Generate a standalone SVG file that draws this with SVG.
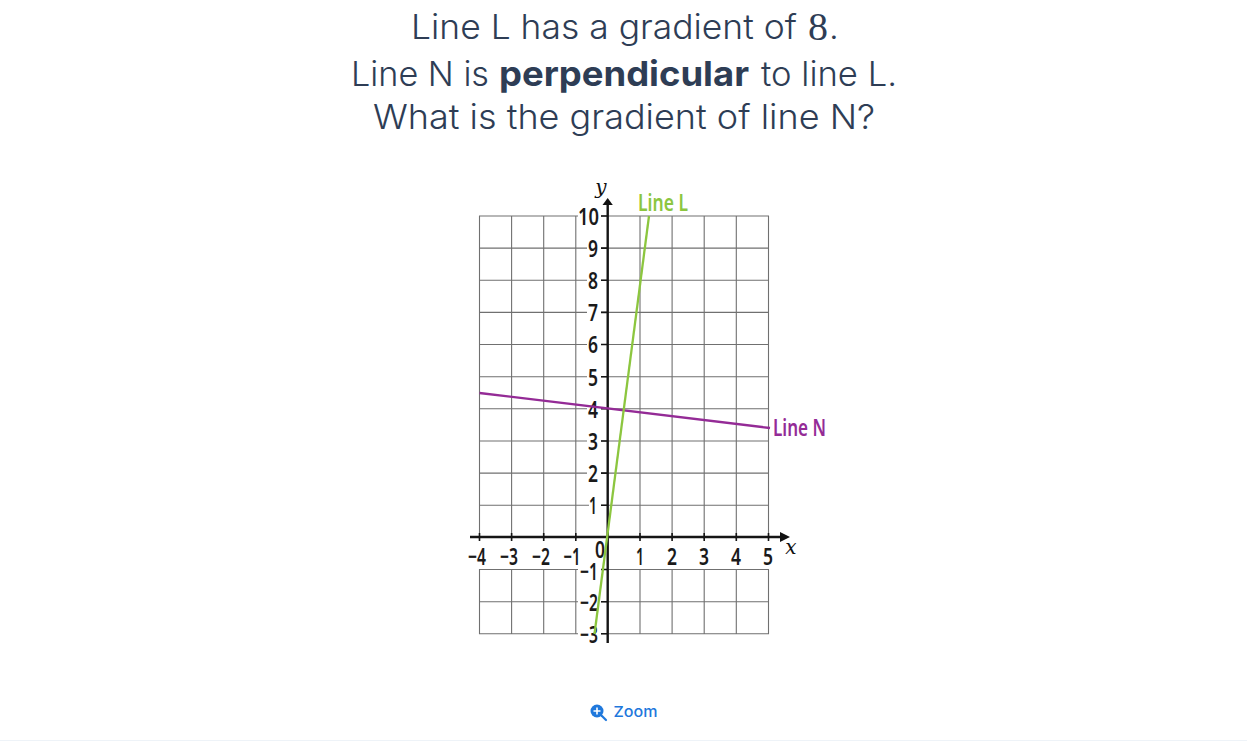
<svg xmlns="http://www.w3.org/2000/svg" width="1247" height="741" viewBox="0 0 1247 741">
<style>
.t{font-family:"Inter","Noto Sans",sans-serif;font-size:34.5px;fill:#2e3d55;font-weight:300}
.g{stroke:#707070;stroke-width:1.1;fill:none}
.k{stroke:#151515;stroke-width:2.4;fill:none}
.n{font-family:"Noto Sans","Open Sans",sans-serif;font-size:24px;font-weight:600;fill:#1a1a1a}
.m{text-anchor:end}
.c{text-anchor:middle}
.v{font-family:"DejaVu Serif",serif;font-style:italic;font-size:20px;fill:#111;text-anchor:middle}
.w{fill:#fff}
</style>
<rect width="1247" height="741" fill="#fff"/>
<g id="title">
<text class="t" x="411" y="39" textLength="386" lengthAdjust="spacingAndGlyphs">Line L has a gradient of</text>
<text x="808" y="40" font-family="Liberation Serif,serif" font-size="39" fill="#2e3d55" textLength="20" lengthAdjust="spacingAndGlyphs">8</text>
<text class="t" x="829" y="39">.</text>
<text class="t" x="351" y="86" textLength="138" lengthAdjust="spacingAndGlyphs">Line N is</text>
<text class="t" x="499" y="86" textLength="250" lengthAdjust="spacingAndGlyphs" style="font-weight:700">perpendicular</text>
<text class="t" x="761" y="86" textLength="136" lengthAdjust="spacingAndGlyphs">to line L.</text>
<text class="t" x="373" y="129" textLength="502" lengthAdjust="spacingAndGlyphs">What is the gradient of line N?</text>
</g>
<g id="grid">
<path class="g" d="M479.5 216V634M511.6 216V634M543.7 216V634M575.8 216V634M640 216V634M672.1 216V634M704.2 216V634M736.3 216V634M768.5 216V634"/>
<path class="g" d="M479 216H769M479 248.1H769M479 280.3H769M479 312.4H769M479 344.5H769M479 376.7H769M479 408.8H769M479 441H769M479 473.1H769M479 505.3H769M479 537.4H769M479 569.5H769M479 601.7H769M479 633.8H769"/>
</g>
<g id="label-masks">
<rect class="w" x="470" y="539" width="310" height="30"/>
<rect class="w" x="578" y="205" width="23" height="22"/>
<rect class="w" x="587" y="238" width="14" height="20"/>
<rect class="w" x="587" y="270" width="14" height="20"/>
<rect class="w" x="587" y="302" width="14" height="20"/>
<rect class="w" x="587" y="334" width="14" height="20"/>
<rect class="w" x="587" y="367" width="14" height="20"/>
<rect class="w" x="587" y="399" width="14" height="20"/>
<rect class="w" x="587" y="431" width="14" height="20"/>
<rect class="w" x="587" y="463" width="14" height="20"/>
<rect class="w" x="589" y="495" width="12" height="20"/>
<rect class="w" x="578" y="560" width="23" height="22"/>
<rect class="w" x="578" y="592" width="23" height="20"/>
<rect class="w" x="578" y="624" width="23" height="20"/>
</g>
<g id="axes">
<path class="k" d="M470 537H781M607.7 204V643"/>
<path d="M790 537L780 532V542Z" fill="#111"/>
<path d="M607.7 198L602.5 205H612.8Z" fill="#111"/>
<path class="k" style="stroke-width:1.6" d="M479.5 533V541M511.6 533V541M543.7 533V541M575.8 533V541M640 533V541M672.1 533V541M704.2 533V541M736.3 533V541M768.5 533V541M601 216H608M601 248.1H608M601 280.3H608M601 312.4H608M601 344.5H608M601 376.7H608M601 408.8H608M601 441H608M601 473.1H608M601 505.3H608M601 569.5H608M601 601.7H608M601 633.8H608"/>
</g>
<g id="y-labels">
<text class="n m" x="599" y="225" textLength="21" lengthAdjust="spacingAndGlyphs">10</text>
<text class="n m" x="598" y="257" textLength="10" lengthAdjust="spacingAndGlyphs">9</text>
<text class="n m" x="598" y="289" textLength="10" lengthAdjust="spacingAndGlyphs">8</text>
<text class="n m" x="598" y="321" textLength="10" lengthAdjust="spacingAndGlyphs">7</text>
<text class="n m" x="598" y="353" textLength="10" lengthAdjust="spacingAndGlyphs">6</text>
<text class="n m" x="598" y="386" textLength="10" lengthAdjust="spacingAndGlyphs">5</text>
<text class="n m" x="598" y="418" textLength="10" lengthAdjust="spacingAndGlyphs">4</text>
<text class="n m" x="598" y="450" textLength="10" lengthAdjust="spacingAndGlyphs">3</text>
<text class="n m" x="598" y="482" textLength="10" lengthAdjust="spacingAndGlyphs">2</text>
<text class="n m" x="597" y="514" textLength="8" lengthAdjust="spacingAndGlyphs">1</text>
<text class="n m" x="598" y="580" textLength="18" lengthAdjust="spacingAndGlyphs">−1</text>
<text class="n m" x="598" y="611" textLength="18" lengthAdjust="spacingAndGlyphs">−2</text>
<text class="n m" x="598" y="643" textLength="18" lengthAdjust="spacingAndGlyphs">−3</text>
</g>
<g id="x-labels">
<text class="n c" x="477" y="565" textLength="18" lengthAdjust="spacingAndGlyphs">−4</text>
<text class="n c" x="509" y="565" textLength="18" lengthAdjust="spacingAndGlyphs">−3</text>
<text class="n c" x="541" y="565" textLength="18" lengthAdjust="spacingAndGlyphs">−2</text>
<text class="n c" x="572" y="565" textLength="17" lengthAdjust="spacingAndGlyphs">−1</text>
<text class="n c" x="600" y="558" textLength="10" lengthAdjust="spacingAndGlyphs">0</text>
<text class="n c" x="640" y="565" textLength="8" lengthAdjust="spacingAndGlyphs">1</text>
<text class="n c" x="672" y="565" textLength="10" lengthAdjust="spacingAndGlyphs">2</text>
<text class="n c" x="704" y="565" textLength="10" lengthAdjust="spacingAndGlyphs">3</text>
<text class="n c" x="736" y="565" textLength="10" lengthAdjust="spacingAndGlyphs">4</text>
<text class="n c" x="768" y="565" textLength="10" lengthAdjust="spacingAndGlyphs">5</text>
</g>
<g id="axis-names">
<text class="v" x="601" y="194">y</text>
<text class="v" x="791" y="554">x</text>
</g>
<g id="line-n">
<line x1="479.5" y1="393" x2="770" y2="428" stroke="#942b96" stroke-width="2.3"/>
<text x="773" y="436" font-family="Noto Sans,sans-serif" font-size="24" font-weight="600" fill="#942b96" textLength="53" lengthAdjust="spacingAndGlyphs">Line N</text>
</g>
<g id="line-l">
<line x1="594.5" y1="634" x2="649" y2="216" stroke="#8cc63f" stroke-width="2.3"/>
<text x="638" y="211" font-family="Noto Sans,sans-serif" font-size="24" font-weight="600" fill="#8cc63f" textLength="50" lengthAdjust="spacingAndGlyphs">Line L</text>
</g>
<g id="zoom">
<circle cx="597" cy="711" r="6.5" fill="#1f78dc"/>
<path d="M593.5 711H600.5M597 707.5V714.5" stroke="#fff" stroke-width="1.6"/>
<path d="M601.5 715.5L606 720" stroke="#1f78dc" stroke-width="2.2" stroke-linecap="round"/>
<text x="613.5" y="717" font-family="Inter,Noto Sans,sans-serif" font-size="15" font-weight="500" fill="#1f78dc" textLength="44" lengthAdjust="spacingAndGlyphs">Zoom</text>
</g>
<rect id="footer-line" x="0" y="740" width="1247" height="1" fill="#eef3f8"/>
</svg>
